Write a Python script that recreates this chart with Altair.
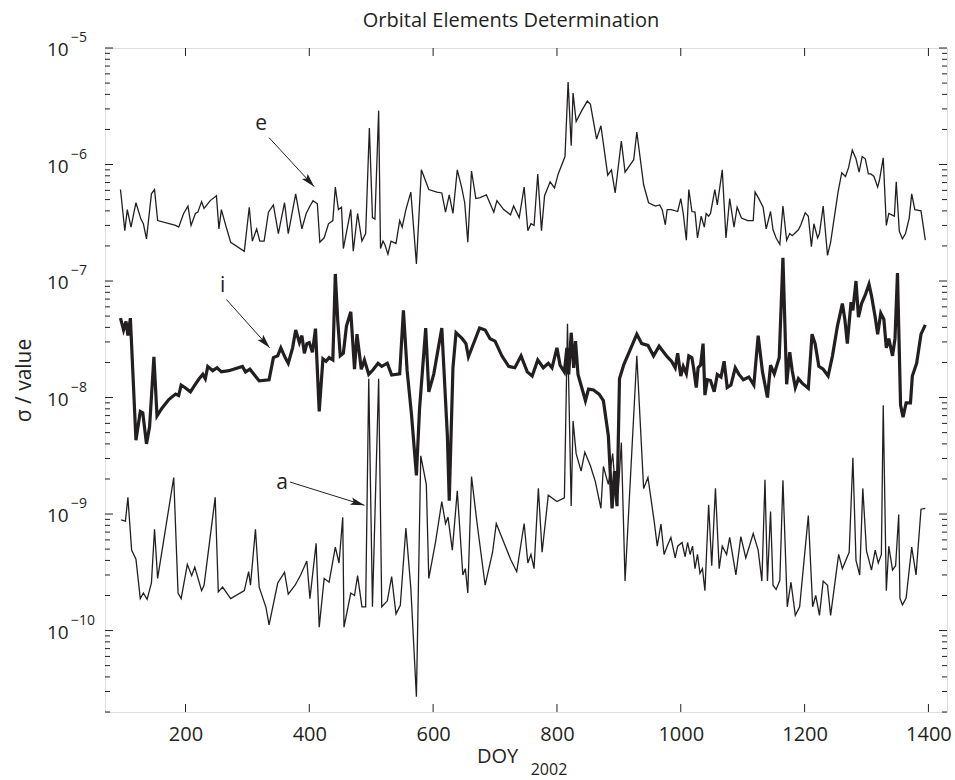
import math
import altair as alt
import pandas as pd

# ---------------- data ----------------
e_doy = [95, 102, 106, 112, 120, 128, 132, 137, 145, 150, 155, 184, 189, 197, 204, 209, 216, 220, 226, 230,
         240, 250, 254, 258, 265, 273, 295, 303, 308, 315, 320, 327, 334, 342, 350, 360, 366, 378, 388, 395,
         400, 406, 413, 417, 424, 431, 438, 442, 447, 452, 455, 467, 471, 478, 485, 491, 497, 502, 506, 512,
         515, 519, 522, 527, 532, 540, 546, 550, 556, 564, 573, 581, 593, 606, 614, 620, 626, 632, 639, 646,
         651, 656, 662, 669, 676, 686, 698, 703, 714, 725, 730, 739, 747, 753, 758, 763, 769, 775, 780, 789,
         796, 802, 813, 818, 823, 826, 831, 840, 849, 854, 864, 871, 882, 888, 894, 904, 910, 924, 929, 940,
         948, 959, 966, 970, 975, 978, 985, 995, 1000, 1004, 1009, 1013, 1018, 1023, 1027, 1033, 1038, 1041,
         1045, 1048, 1055, 1059, 1067, 1073, 1079, 1086, 1091, 1098, 1108, 1117, 1120, 1126, 1133, 1138, 1145,
         1149, 1154, 1160, 1165, 1171, 1176, 1180, 1185, 1190, 1194, 1201, 1206, 1211, 1215, 1221, 1224, 1230,
         1237, 1242, 1254, 1260, 1266, 1271, 1277, 1283, 1288, 1293, 1298, 1303, 1307, 1312, 1318, 1321, 1327,
         1332, 1336, 1345, 1348, 1353, 1358, 1363, 1369, 1373, 1378, 1388, 1395]
e_val = [6.1e-7, 2.7e-7, 4.1e-7, 2.9e-7, 4.7e-7, 3.4e-7, 3.1e-7, 2.3e-7, 5.6e-7, 6.1e-7, 3.3e-7, 3.0e-7, 2.9e-7,
         3.8e-7, 4.4e-7, 3.0e-7, 3.8e-7, 3.9e-7, 4.8e-7, 4.2e-7, 4.9e-7, 5.4e-7, 2.8e-7, 4.1e-7, 3.0e-7, 2.15e-7,
         1.8e-7, 4.3e-7, 2.2e-7, 2.8e-7, 2.2e-7, 2.2e-7, 3.9e-7, 4.5e-7, 2.55e-7, 4.7e-7, 2.55e-7, 5.6e-7, 2.8e-7,
         3.8e-7, 4.3e-7, 4.9e-7, 4.6e-7, 2.15e-7, 2.35e-7, 3.1e-7, 3.3e-7, 6.4e-7, 4.1e-7, 4.3e-7, 1.9e-7, 4.1e-7,
         1.8e-7, 3.8e-7, 2.2e-7, 2.55e-7, 2.06e-6, 3.5e-7, 3.4e-7, 2.9e-6, 1.9e-7, 2.2e-7, 2.06e-7, 1.7e-7, 2.2e-7,
         2.1e-7, 3.3e-7, 2.9e-7, 4.1e-7, 5.8e-7, 1.4e-7, 9.0e-7, 6.1e-7, 5.8e-7, 5.7e-7, 3.9e-7, 5.5e-7, 3.8e-7,
         9.0e-7, 6.4e-7, 4.7e-7, 2.15e-7, 8.8e-7, 5.1e-7, 5.2e-7, 5.5e-7, 3.9e-7, 4.9e-7, 4.1e-7, 3.7e-7, 4.4e-7,
         3.5e-7, 6.4e-7, 2.7e-7, 3.1e-7, 3.0e-7, 8.3e-7, 2.7e-7, 5.4e-7, 7.1e-7, 6.3e-7, 8.3e-7, 1.17e-6, 5.1e-6,
         1.45e-6, 4.1e-6, 2.34e-6, 2.9e-6, 3.5e-6, 3.3e-6, 1.65e-6, 2.15e-6, 8.1e-7, 9.0e-7, 5.7e-7, 1.59e-6,
         8.6e-7, 1.1e-6, 1.9e-6, 6.7e-7, 4.7e-7, 4.4e-7, 4.5e-7, 4.1e-7, 3.04e-7, 4.1e-7, 4.1e-7, 3.95e-7, 5.1e-7,
         3.8e-7, 2.24e-7, 6.1e-7, 3.95e-7, 3.9e-7, 2.34e-7, 3.6e-7, 2.9e-7, 3.8e-7, 3.6e-7, 3.8e-7, 6.1e-7, 4.5e-7,
         9.0e-7, 2.34e-7, 5.1e-7, 2.9e-7, 4.3e-7, 3.47e-7, 3.3e-7, 3.3e-7, 5.8e-7, 5.1e-7, 4.3e-7, 2.8e-7, 3.95e-7,
         2.75e-7, 2.34e-7, 2.06e-7, 4.4e-7, 2.24e-7, 2.56e-7, 2.45e-7, 2.6e-7, 2.75e-7, 3.04e-7, 3.86e-7, 3.6e-7,
         1.97e-7, 3.1e-7, 2.34e-7, 2.56e-7, 4.4e-7, 1.66e-7, 2.15e-7, 5.8e-7, 8.5e-7, 7.9e-7, 9.4e-7, 1.33e-6,
         1.12e-6, 8.6e-7, 1.17e-6, 1.12e-6, 8.3e-7, 8.3e-7, 7.9e-7, 6.4e-7, 7.4e-7, 1.14e-6, 3.0e-7, 3.8e-7,
         3.6e-7, 7.1e-7, 2.67e-7, 2.3e-7, 2.56e-7, 3.47e-7, 5.6e-7, 4.1e-7, 4.0e-7, 2.24e-7]

i_doy = [95, 100, 104, 107, 111, 120, 127, 131, 137, 142, 149, 154, 162, 173, 184, 189, 193, 199, 208, 215,
         222, 228, 232, 236, 244, 251, 258, 270, 292, 297, 304, 319, 335, 342, 349, 354, 361, 366, 373, 378,
         384, 388, 392, 396, 400, 405, 410, 416, 422, 427, 432, 438, 442, 446, 450, 455, 460, 467, 473, 477,
         484, 489, 496, 503, 511, 517, 526, 533, 546, 552, 558, 565, 573, 578, 588, 593, 601, 614, 623, 626,
         632, 637, 647, 653, 657, 663, 675, 684, 692, 700, 711, 722, 732, 742, 752, 760, 769, 778, 786, 792,
         800, 805, 812, 816, 819, 823, 827, 830, 834, 840, 846, 851, 859, 868, 875, 883, 889, 893, 897, 901,
         908, 918, 929, 937, 947, 956, 965, 970, 978, 985, 991, 995, 1000, 1004, 1009, 1013, 1018, 1021,
         1025, 1028, 1032, 1036, 1039, 1043, 1048, 1054, 1059, 1065, 1070, 1075, 1081, 1088, 1094, 1101,
         1110, 1118, 1125, 1132, 1140, 1145, 1151, 1159, 1165, 1171, 1176, 1180, 1185, 1190, 1196, 1206,
         1212, 1217, 1223, 1230, 1238, 1245, 1253, 1261, 1265, 1269, 1275, 1278, 1283, 1287, 1292, 1298,
         1304, 1308, 1314, 1318, 1323, 1328, 1332, 1336, 1342, 1346, 1350, 1355, 1359, 1364, 1371, 1374,
         1381, 1388, 1395]
i_val = [4.8e-8, 3.8e-8, 4.5e-8, 3.4e-8, 4.8e-8, 4.3e-9, 7.6e-9, 7.4e-9, 4.0e-9, 5.6e-9, 2.24e-8, 6.95e-9,
         8.1e-9, 9.6e-9, 1.07e-8, 1.04e-8, 1.28e-8, 1.22e-8, 1.12e-8, 1.28e-8, 1.45e-8, 1.58e-8, 1.45e-8,
         1.85e-8, 1.7e-8, 1.8e-8, 1.66e-8, 1.7e-8, 1.85e-8, 1.66e-8, 1.75e-8, 1.39e-8, 1.42e-8, 2.2e-8, 2.28e-8,
         2.67e-8, 2.2e-8, 1.97e-8, 2.67e-8, 3.8e-8, 2.96e-8, 3.4e-8, 2.4e-8, 2.9e-8, 2.96e-8, 2.45e-8, 3.9e-8,
         7.6e-9, 2.15e-8, 2.05e-8, 2.2e-8, 2.1e-8, 1.15e-7, 4.5e-8, 2.28e-8, 2.4e-8, 4.1e-8, 5.45e-8, 1.75e-8,
         3.5e-8, 1.75e-8, 2.1e-8, 1.58e-8, 1.73e-8, 1.97e-8, 1.85e-8, 1.97e-8, 1.56e-8, 1.6e-8, 5.6e-8, 1.7e-8,
         7.2e-9, 2.15e-9, 7.9e-9, 3.95e-8, 1.12e-8, 1.59e-8, 3.95e-8, 4.7e-9, 1.3e-9, 1.8e-8, 3.6e-8, 3.2e-8,
         2.9e-8, 2.24e-8, 2.7e-8, 3.95e-8, 3.8e-8, 3.2e-8, 3.05e-8, 2.28e-8, 1.85e-8, 1.8e-8, 2.28e-8, 1.66e-8,
         1.53e-8, 2.1e-8, 1.8e-8, 1.97e-8, 1.8e-8, 2.67e-8, 1.9e-8, 1.66e-8, 2.67e-8, 1.58e-8, 3.6e-8, 1.8e-8,
         3.05e-8, 1.58e-8, 1.22e-8, 9.4e-9, 1.18e-8, 1.16e-8, 1.07e-8, 9.4e-9, 4.7e-9, 1.12e-9, 2.34e-9,
         1.17e-9, 1.45e-8, 1.92e-8, 2.55e-8, 3.5e-8, 2.9e-8, 2.8e-8, 2.28e-8, 2.76e-8, 2.55e-8, 2.24e-8,
         2.05e-8, 1.8e-8, 2.4e-8, 1.53e-8, 1.85e-8, 1.6e-8, 2.28e-8, 2.2e-8, 1.75e-8, 1.22e-8, 1.8e-8, 1.9e-8,
         2.9e-8, 1.05e-8, 1.42e-8, 1.4e-8, 1.12e-8, 1.58e-8, 1.5e-8, 2.05e-8, 1.22e-8, 1.28e-8, 1.8e-8,
         1.58e-8, 1.42e-8, 1.5e-8, 1.28e-8, 3.4e-8, 1.66e-8, 1.0e-8, 1.9e-8, 1.6e-8, 2.2e-8, 1.58e-7, 1.3e-8,
         2.45e-8, 1.7e-8, 1.22e-8, 1.45e-8, 1.33e-8, 1.2e-8, 3.5e-8, 2.9e-8, 1.85e-8, 1.75e-8, 1.53e-8,
         2.28e-8, 4.1e-8, 6.4e-8, 4.7e-8, 2.9e-8, 6.6e-8, 5.6e-8, 1.0e-7, 4.9e-8, 6.4e-8, 7.6e-8, 9.4e-8,
         7.5e-8, 4.9e-8, 3.5e-8, 5.3e-8, 4.7e-8, 2.67e-8, 3.2e-8, 2.28e-8, 3.2e-8, 1.17e-7, 8.6e-9, 6.8e-9,
         9.0e-9, 9.0e-9, 1.53e-8, 1.97e-8, 3.5e-8, 4.2e-8]

a_doy = [96, 103, 107, 113, 120, 127, 132, 138, 145, 150, 155, 181, 188, 193, 203, 210, 215, 226, 230, 248,
         253, 260, 273, 295, 302, 305, 313, 319, 330, 335, 349, 360, 366, 377, 386, 396, 401, 411, 416, 424,
         432, 442, 448, 454, 456, 467, 473, 478, 485, 491, 496, 502, 512, 517, 526, 533, 540, 547, 556, 564,
         573, 580, 589, 593, 604, 614, 620, 624, 631, 639, 648, 652, 656, 662, 671, 684, 696, 702, 725, 735,
         747, 753, 758, 763, 770, 776, 786, 800, 812, 817, 823, 826, 831, 839, 845, 854, 862, 871, 875, 883,
         890, 895, 899, 904, 910, 929, 940, 947, 957, 962, 968, 973, 978, 984, 991, 995, 1002, 1007, 1011,
         1015, 1019, 1023, 1027, 1031, 1035, 1039, 1045, 1050, 1056, 1062, 1067, 1074, 1079, 1089, 1097, 1105,
         1117, 1125, 1131, 1136, 1140, 1145, 1149, 1154, 1160, 1165, 1172, 1178, 1185, 1192, 1206, 1213, 1218,
         1224, 1230, 1237, 1242, 1255, 1261, 1272, 1278, 1283, 1289, 1294, 1300, 1304, 1308, 1314, 1319, 1324,
         1327, 1332, 1336, 1342, 1347, 1352, 1354, 1358, 1364, 1373, 1380, 1388, 1395]
a_val = [8.9e-10, 8.7e-10, 1.39e-9, 4.9e-10, 4.1e-10, 1.88e-10, 2.1e-10, 1.85e-10, 2.56e-10, 7.4e-10, 2.8e-10,
         2.06e-9, 2.1e-10, 1.88e-10, 3.7e-10, 2.96e-10, 3.5e-10, 2.2e-10, 2.45e-10, 1.39e-9, 2.15e-10, 2.36e-10,
         1.88e-10, 2.2e-10, 3.2e-10, 2.45e-10, 7.4e-10, 2.36e-10, 1.58e-10, 1.12e-10, 2.56e-10, 3.16e-10,
         2.05e-10, 2.45e-10, 3.0e-10, 3.95e-10, 1.88e-10, 5.6e-10, 1.07e-10, 2.8e-10, 2.6e-10, 5.2e-10, 3.8e-10,
         9.4e-10, 1.07e-10, 2.1e-10, 2.0e-10, 2.96e-10, 1.6e-10, 1.6e-10, 1.45e-8, 1.6e-10, 1.45e-8, 1.6e-10,
         1.8e-10, 2.9e-10, 1.39e-10, 1.65e-10, 7.6e-10, 2.3e-10, 2.7e-11, 3.16e-9, 1.8e-9, 2.8e-10, 5.8e-10,
         1.28e-9, 8.3e-10, 9.4e-10, 4.9e-10, 1.58e-9, 3.0e-10, 3.4e-10, 2.1e-10, 2.1e-9, 8.3e-10, 2.45e-10,
         4.7e-10, 8.3e-10, 4.1e-10, 3.2e-10, 8.3e-10, 3.8e-10, 4.5e-10, 3.4e-10, 1.66e-9, 4.7e-10, 1.45e-9,
         1.28e-9, 1.38e-9, 4.3e-8, 1.17e-9, 6.3e-9, 3.3e-9, 2.34e-9, 3.4e-9, 2.6e-9, 1.9e-9, 1.12e-9, 2.56e-9,
         1.8e-9, 3.3e-9, 1.5e-9, 1.55e-9, 4.1e-9, 2.66e-10, 2.28e-8, 1.66e-9, 2.06e-9, 8.7e-10, 5.3e-10, 8.2e-10,
         4.5e-10, 5.3e-10, 6.3e-10, 4.2e-10, 5.3e-10, 5.7e-10, 4.3e-10, 5.7e-10, 4.5e-10, 5.3e-10, 3.4e-10,
         4.5e-10, 3.1e-10, 3.4e-10, 2.2e-10, 1.2e-9, 3.6e-10, 1.66e-9, 3.4e-10, 5.3e-10, 4.5e-10, 6.3e-10,
         3.0e-10, 6.4e-10, 4.2e-10, 6.8e-10, 4.9e-10, 2.66e-10, 1.97e-9, 2.66e-10, 1.05e-9, 2.45e-10, 2.25e-10,
         2.7e-10, 1.95e-9, 1.6e-10, 2.6e-10, 1.35e-10, 1.6e-10, 9.7e-10, 1.6e-10, 2.0e-10, 1.35e-10, 2.66e-10,
         2.45e-10, 1.35e-10, 4.5e-10, 3.4e-10, 4.7e-10, 3.04e-9, 4.0e-10, 3.0e-10, 1.66e-9, 4.8e-10, 4.0e-10,
         3.3e-10, 4.9e-10, 3.8e-10, 4.5e-10, 8.6e-9, 2.2e-10, 5.3e-10, 3.3e-10, 3.6e-10, 9.9e-10, 1.9e-10,
         1.66e-10, 1.9e-10, 5.2e-10, 3.0e-10, 1.1e-9, 1.12e-9]

# annotation labels and arrows (label position, arrow start, arrow tip)
ann_labels = ["e", "i", "a"]
ann_doy = [322, 260, 356]
ann_val = [2.24e-6, 9.0e-8, 1.84e-9]
arrow_from_doy = [335, 266, 369]
arrow_from_val = [1.7e-6, 6.95e-8, 1.88e-9]
arrow_to_doy = [408, 336, 489]
arrow_to_val = [6.45e-7, 2.67e-8, 1.19e-9]

x_tick_values = [200, 400, 600, 800, 1000, 1200, 1400]
y_major_exps = [-5, -6, -7, -8, -9, -10]
title_text = "Orbital Elements Determination"
x_title = "DOY"
x_title_sub = "2002"
y_title = "σ / value"

# ---------------- layout / style ----------------
W, H = 842, 664
XDOM = [70, 1430]
YDOM = [2e-11, 1e-5]
FONT = "Open Sans"
INK = "#231f20"

xs = alt.Scale(domain=XDOM, nice=False, zero=False)
ys = alt.Scale(type="log", domain=YDOM, nice=False)

x_axis = alt.Axis(values=x_tick_values, format="d", ticks=False, tickSize=0, domain=False, grid=False,
                  labelFont=FONT, labelFontSize=20, labelColor=INK, labelPadding=12, labelFlush=False,
                  title=x_title, titleFont=FONT, titleFontSize=20, titleFontWeight="normal", titleColor=INK,
                  titleX=392, titleY=50, titleAlign="center", titleBaseline="alphabetic")
y_axis = alt.Axis(labels=False, ticks=False, tickSize=0, domain=False, grid=False,
                  title=y_title, titleFont=FONT, titleFontSize=21, titleFontWeight="normal",
                  titleColor=INK, titleX=-81, titleY=H / 2, titleAngle=270, titleAlign="center",
                  titleBaseline="middle")

X = alt.X("doy:Q", scale=xs, axis=x_axis)
Xn = alt.X("doy:Q", scale=xs)
Yn = alt.Y("val:Q", scale=ys)

df_e = pd.DataFrame({"doy": e_doy, "val": e_val})
df_i = pd.DataFrame({"doy": i_doy, "val": i_val})
df_a = pd.DataFrame({"doy": a_doy, "val": a_val})

line_e = alt.Chart(df_e).mark_line(color=INK, strokeWidth=1.3).encode(
    x=X, y=alt.Y("val:Q", scale=ys, axis=y_axis))
line_i = alt.Chart(df_i).mark_line(color=INK, strokeWidth=3.2, strokeJoin="miter").encode(x=Xn, y=Yn)
line_a = alt.Chart(df_a).mark_line(color=INK, strokeWidth=1.3).encode(x=Xn, y=Yn)

# ---- ticks (inward, MATLAB style) ----
ymaj = [10.0 ** k for k in y_major_exps]
ymin = []
for n in range(-11, -5):
    for k in range(2, 10):
        v = k * 10.0 ** n
        if YDOM[0] * 0.999 <= v <= YDOM[1]:
            ymin.append(v)
df_ymaj = pd.DataFrame({"val": ymaj})
df_ymin = pd.DataFrame({"val": ymin})
df_xt = pd.DataFrame({"doy": x_tick_values})

tick_kw = dict(color=INK, strokeWidth=1)
t_left_maj = alt.Chart(df_ymaj).mark_rule(**tick_kw).encode(y=Yn, x=alt.value(0), x2=alt.value(8))
t_right_maj = alt.Chart(df_ymaj).mark_rule(**tick_kw).encode(y=Yn, x=alt.value(W), x2=alt.value(W - 8))
t_left_min = alt.Chart(df_ymin).mark_rule(**tick_kw).encode(y=Yn, x=alt.value(0), x2=alt.value(5))
t_right_min = alt.Chart(df_ymin).mark_rule(**tick_kw).encode(y=Yn, x=alt.value(W), x2=alt.value(W - 5))
t_bot = alt.Chart(df_xt).mark_rule(**tick_kw).encode(x=Xn, y=alt.value(H), y2=alt.value(H - 8))
t_top = alt.Chart(df_xt).mark_rule(**tick_kw).encode(x=Xn, y=alt.value(0), y2=alt.value(8))

# ---- y tick labels "10" with superscript exponent ----
df_ylab = pd.DataFrame({"val": ymaj, "base": ["10"] * len(ymaj),
                        "exp": ["\u2212" + str(-k) for k in y_major_exps]})
ylab_base = alt.Chart(df_ylab).mark_text(font=FONT, fontSize=19, color=INK, align="left",
                                         baseline="middle", dy=2).encode(
    y=Yn, x=alt.value(-58), text="base:N")
ylab_exp = alt.Chart(df_ylab).mark_text(font=FONT, fontSize=14, color=INK, align="left",
                                        baseline="middle", dy=-10).encode(
    y=Yn, x=alt.value(-34), text="exp:N")

# subscript of the x title
sub = alt.Chart(pd.DataFrame({"t": [x_title_sub]})).mark_text(
    font=FONT, fontSize=16, color=INK, align="center", baseline="alphabetic").encode(
    x=alt.value(444), y=alt.value(H + 63), text="t:N")

# chart title
ttl = alt.Chart(pd.DataFrame({"t": [title_text]})).mark_text(
    font=FONT, fontSize=20, color=INK, align="center", baseline="alphabetic").encode(
    x=alt.value(W / 2 - 15), y=alt.value(-21), text="t:N")

# ---- annotations ----
df_lab = pd.DataFrame({"doy": ann_doy, "val": ann_val, "t": ann_labels})
labels = alt.Chart(df_lab).mark_text(font=FONT, fontSize=21, color=INK, align="center",
                                     baseline="middle").encode(x=Xn, y=Yn, text="t:N")

df_arr = pd.DataFrame({"doy": arrow_from_doy, "val": arrow_from_val,
                       "doy2": arrow_to_doy, "val2": arrow_to_val})
arrows = alt.Chart(df_arr).mark_rule(color=INK, strokeWidth=1).encode(
    x=Xn, y=Yn, x2="doy2:Q", y2="val2:Q")


def px(d):
    return (d - XDOM[0]) / (XDOM[1] - XDOM[0]) * W


def py(v):
    return (math.log10(YDOM[1]) - math.log10(v)) / (math.log10(YDOM[1]) - math.log10(YDOM[0])) * H


angles = []
for d0, v0, d1, v1 in zip(arrow_from_doy, arrow_from_val, arrow_to_doy, arrow_to_val):
    dx = px(d1) - px(d0)
    dy = py(v1) - py(v0)
    angles.append(math.degrees(math.atan2(dx, -dy)) % 360)

df_head = pd.DataFrame({"doy": arrow_to_doy, "val": arrow_to_val, "ang": angles})
heads = alt.Chart(df_head).mark_point(shape="M0,0L-0.55,2L0,1.6L0.55,2Z", filled=True, size=196,
                                      color=INK, opacity=1, strokeWidth=0).encode(
    x=Xn, y=Yn, angle=alt.Angle("ang:Q", scale=None))

chart = alt.layer(
    line_e, line_i, line_a,
    t_left_maj, t_right_maj, t_left_min, t_right_min, t_bot, t_top,
    ylab_base, ylab_exp, sub, ttl, labels, arrows, heads,
).properties(
    width=W, height=H,
    autosize=alt.AutoSizeParams(type="none"),
    padding={"left": 105, "top": 48, "right": 8, "bottom": 68},
).configure_view(stroke=INK, strokeWidth=1.2).configure(background="white")

chart.save("out.html", embed_options={"renderer": "svg", "actions": False})
